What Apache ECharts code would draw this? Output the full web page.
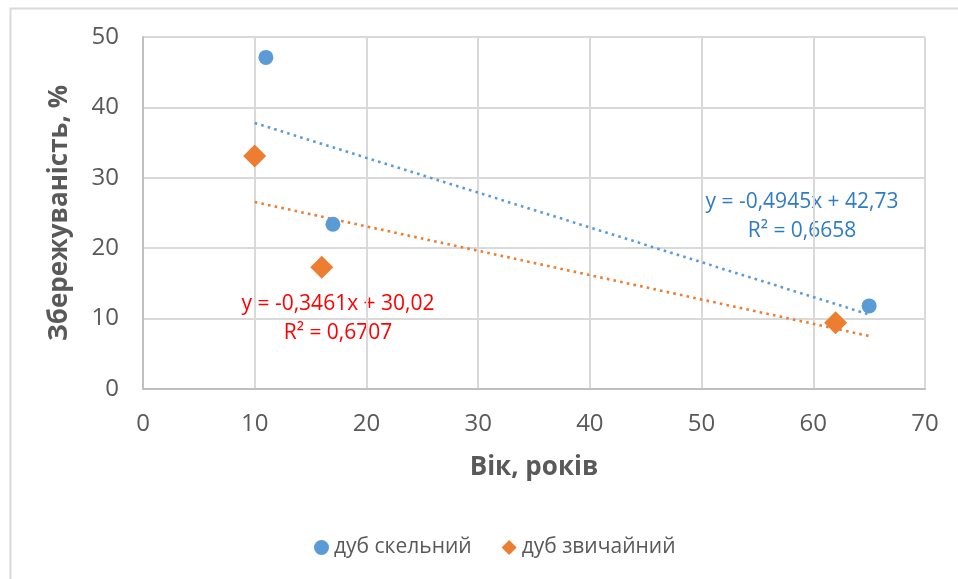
<!DOCTYPE html>
<html>
<head>
<meta charset="utf-8">
<script src="https://cdn.jsdelivr.net/npm/echarts@6/dist/echarts.min.js"></script>
<style>
html,body{margin:0;padding:0;background:#fff;}
#c{width:958px;height:579px;}
</style>
</head>
<body>
<div id="c"></div>
<script>
// Data
const seriesNames = ['дуб скельний', 'дуб звичайний'];
const rockOakX = [11, 17, 65];
const rockOakY = [47.1, 23.4, 11.8];
const commonOakX = [10, 16, 62];
const commonOakY = [33.1, 17.3, 9.4];
// Trendline equations (as printed on chart)
const rockSlope = -0.4945, rockIntercept = 42.73, rockR2 = '0,6658';
const commonSlope = -0.3461, commonIntercept = 30.02, commonR2 = '0,6707';
const trendRangeX = [10, 65];
const xTicks = [0, 10, 20, 30, 40, 50, 60, 70];
const yTicks = [0, 10, 20, 30, 40, 50];

const FONT = '"Open Sans", sans-serif';
const blue = '#5B9BD5', orange = '#ED7D31';

const zip = (xs, ys) => xs.map((x, i) => [x, ys[i]]);
const trend = (m, b) => trendRangeX.map(x => [x, m * x + b]);
const fmt = v => String(v).replace('.', ',');

const chart = echarts.init(document.getElementById('c'), null, {renderer: 'canvas'});
chart.setOption({
  animation: false,
  backgroundColor: '#fff',
  textStyle: {fontFamily: FONT},
  grid: {left: 143, top: 37, right: 33, bottom: 190, containLabel: false},
  xAxis: {
    type: 'value', min: xTicks[0], max: xTicks[xTicks.length - 1], interval: 10,
    name: 'Вік, років', nameLocation: 'middle', nameGap: 66,
    nameTextStyle: {fontSize: 26, fontWeight: 'bold', color: '#595959', fontFamily: FONT},
    axisLine: {show: true, lineStyle: {color: '#BFBFBF', width: 2}},
    axisTick: {show: false},
    axisLabel: {fontSize: 24, color: '#595959', margin: 23, fontFamily: FONT},
    splitLine: {show: true, lineStyle: {color: '#D9D9D9', width: 2}}
  },
  yAxis: {
    type: 'value', min: yTicks[0], max: yTicks[yTicks.length - 1], interval: 10,
    name: 'Збережуваність, %', nameLocation: 'middle', nameGap: 70, nameRotate: 90,
    nameTextStyle: {fontSize: 26, fontWeight: 'bold', color: '#595959', fontFamily: FONT},
    axisLine: {show: true, lineStyle: {color: '#BFBFBF', width: 2}},
    axisTick: {show: false},
    axisLabel: {fontSize: 24, color: '#595959', margin: 24, fontFamily: FONT},
    splitLine: {show: true, lineStyle: {color: '#D9D9D9', width: 2}}
  },
  legend: {
    data: [
      {name: seriesNames[0], icon: 'circle', itemStyle: {color: blue, opacity: 1}},
      {name: seriesNames[1], icon: 'diamond', itemStyle: {color: orange, opacity: 1}}
    ],
    left: 309, top: 532, itemWidth: 15, itemHeight: 15, itemGap: 30,
    textStyle: {fontSize: 21, color: '#595959', fontFamily: FONT}
  },
  series: [
    {
      name: seriesNames[0] + ' trend', type: 'line', data: trend(rockSlope, rockIntercept),
      symbol: 'none', silent: true, z: 1,
      lineStyle: {color: blue, width: 2.6, type: [2.6, 4.2]}
    },
    {
      name: seriesNames[1] + ' trend', type: 'line', data: trend(commonSlope, commonIntercept),
      symbol: 'none', silent: true, z: 1,
      lineStyle: {color: orange, width: 2.6, type: [2.6, 4.2]}
    },
    {
      name: seriesNames[0], type: 'scatter', data: zip(rockOakX, rockOakY),
      symbol: 'circle', symbolSize: 15, itemStyle: {color: blue, opacity: 1}, z: 3
    },
    {
      name: seriesNames[1], type: 'scatter', data: zip(commonOakX, commonOakY),
      symbol: 'diamond', symbolSize: 23, itemStyle: {color: orange, opacity: 1}, z: 3
    }
  ],
  graphic: [
    {type: 'rect', left: 8, top: 6, shape: {width: 1000, height: 700},
     style: {fill: 'none', stroke: '#D9D9D9', lineWidth: 2}, silent: true, z: -1},
    {type: 'text', x: 802, y: 202, style: {
      text: 'y = -' + fmt(-rockSlope) + 'x + ' + fmt(rockIntercept),
      fill: '#2E7CC4', font: '21px ' + FONT, align: 'center', verticalAlign: 'middle'}},
    {type: 'text', x: 802, y: 231, style: {
      text: 'R² = ' + rockR2, fill: '#2E7CC4', font: '21px ' + FONT, align: 'center', verticalAlign: 'middle'}},
    {type: 'text', x: 338, y: 304, style: {
      text: 'y = -' + fmt(-commonSlope) + 'x + ' + fmt(commonIntercept),
      fill: '#FF0000', font: '21px ' + FONT, align: 'center', verticalAlign: 'middle'}},
    {type: 'text', x: 338, y: 333, style: {
      text: 'R² = ' + commonR2, fill: '#FF0000', font: '21px ' + FONT, align: 'center', verticalAlign: 'middle'}}
  ]
});
</script>
</body>
</html>
